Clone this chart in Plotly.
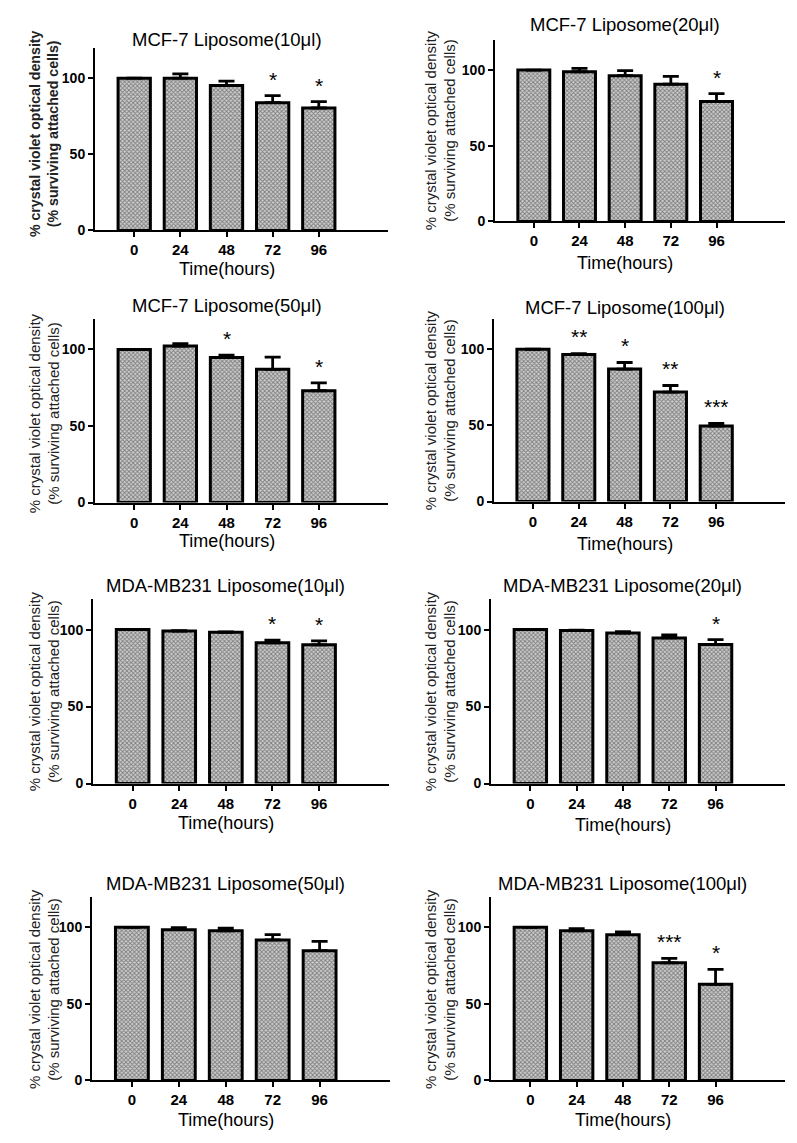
import plotly.graph_objects as go

# ---- data ----
hours = ["0", "24", "48", "72", "96"]

titles = [
    "MCF-7 Liposome(10μl)", "MCF-7 Liposome(20μl)",
    "MCF-7 Liposome(50μl)", "MCF-7 Liposome(100μl)",
    "MDA-MB231 Liposome(10μl)", "MDA-MB231 Liposome(20μl)",
    "MDA-MB231 Liposome(50μl)", "MDA-MB231 Liposome(100μl)",
]

mcf7_10_mean = [100, 100, 95.2, 83.9, 80.4]
mcf7_10_err = [0, 2.8, 2.8, 4.6, 4.2]
mcf7_10_sig = ["", "", "", "*", "*"]

mcf7_20_mean = [100, 98.9, 96.3, 90.7, 79.3]
mcf7_20_err = [0, 2.2, 3.3, 5.2, 5.2]
mcf7_20_sig = ["", "", "", "", "*"]

mcf7_50_mean = [100, 102.2, 94.8, 87.0, 73.0]
mcf7_50_err = [0, 1.5, 1.5, 8.0, 5.2]
mcf7_50_sig = ["", "", "*", "", "*"]

mcf7_100_mean = [100, 96.5, 87.0, 71.9, 49.6]
mcf7_100_err = [0, 0.7, 4.3, 4.3, 1.7]
mcf7_100_sig = ["", "**", "*", "**", "***"]

mda_10_mean = [100, 99.1, 98.3, 91.4, 90.1]
mda_10_err = [0, 0.3, 0.3, 1.7, 2.6]
mda_10_sig = ["", "", "", "*", "*"]

mda_20_mean = [100, 99.4, 97.8, 94.6, 90.3]
mda_20_err = [0, 0.3, 0.9, 1.9, 3.2]
mda_20_sig = ["", "", "", "", "*"]

mda_50_mean = [100, 98.5, 97.8, 91.8, 84.8]
mda_50_err = [0, 1.3, 1.7, 3.4, 6.1]
mda_50_sig = ["", "", "", "", ""]

mda_100_mean = [100, 97.8, 95.2, 76.8, 62.8]
mda_100_err = [0, 1.3, 1.8, 2.9, 9.7]
mda_100_sig = ["", "", "", "***", "*"]

y_ticks = [0, 50, 100]
x_title = "Time(hours)"
y_title = "% crystal violet optical density<br>(% surviving attached cells)"

panels = [
    (mcf7_10_mean, mcf7_10_err, mcf7_10_sig),
    (mcf7_20_mean, mcf7_20_err, mcf7_20_sig),
    (mcf7_50_mean, mcf7_50_err, mcf7_50_sig),
    (mcf7_100_mean, mcf7_100_err, mcf7_100_sig),
    (mda_10_mean, mda_10_err, mda_10_sig),
    (mda_20_mean, mda_20_err, mda_20_sig),
    (mda_50_mean, mda_50_err, mda_50_sig),
    (mda_100_mean, mda_100_err, mda_100_sig),
]

# ---- layout (pixel boxes: x0, x1, ytop, ybottom; title y; xtitle y; ytitle x; ytitle y) ----
W, H = 797, 1143
boxes = [
    (87, 380, 40, 224, 32, 263, 36, 127),
    (487, 777, 32, 215, 17, 257, 432, 123),
    (87, 380, 313, 498, 300, 537, 36, 408),
    (486, 777, 313, 497, 302, 540, 432, 405),
    (85, 381, 595, 781, 582, 821, 36, 688),
    (483, 777, 595, 781, 582, 823, 432, 688),
    (84, 382, 895, 1080, 882, 1120, 36, 988),
    (483, 777, 895, 1080, 882, 1120, 432, 988),
]

FONT = "Liberation Sans, Arial, sans-serif"
fig = go.Figure()
annotations = []
layout = {}

for i, ((mean, err, sig), box, title) in enumerate(zip(panels, boxes, titles)):
    x0, x1, yt, yb, ty, xty, ytx, yty = box
    n = i + 1
    xa = "x" if n == 1 else f"x{n}"
    ya = "y" if n == 1 else f"y{n}"
    xkey = "xaxis" if n == 1 else f"xaxis{n}"
    ykey = "yaxis" if n == 1 else f"yaxis{n}"
    fig.add_trace(go.Bar(
        x=list(range(len(hours))), y=mean,
        xaxis=xa, yaxis=ya, width=0.7,
        marker=dict(
            color="#808080",
            line=dict(color="black", width=3),
            pattern=dict(shape="x", size=3, solidity=0.5,
                         fgcolor="#2a2a2a", bgcolor="#cfcfcf"),
        ),
        error_y=dict(type="data", symmetric=False, array=err,
                     arrayminus=[0] * len(err), color="black",
                     thickness=2.8, width=8),
        showlegend=False,
    ))
    layout[xkey] = dict(
        domain=[x0 / W, x1 / W], anchor=ya,
        range=[-0.85, 5.5], tickmode="array",
        tickvals=list(range(len(hours))), ticktext=hours,
        showline=True, linecolor="black", linewidth=2,
        ticks="outside", ticklen=5, tickwidth=2, tickcolor="black",
        showgrid=False, zeroline=False,
        tickfont=dict(family=FONT, size=15, color="black", weight="bold"),
    )
    layout[ykey] = dict(
        domain=[1 - yb / H, 1 - yt / H], anchor=xa,
        range=[0, 120], tickmode="array", tickvals=y_ticks,
        showline=True, linecolor="black", linewidth=2,
        ticks="outside", ticklen=5, tickwidth=2, tickcolor="black",
        showgrid=False, zeroline=False,
        tickfont=dict(family=FONT, size=14, color="black", weight="bold"),
    )
    annotations.append(dict(
        text=title, xref=xa, x=2, yref="paper", y=1 - ty / H,
        xanchor="center", yanchor="middle", showarrow=False,
        font=dict(family=FONT, size=18.5, color="black")))
    annotations.append(dict(
        text=x_title, xref=xa, x=2, yref="paper", y=1 - xty / H,
        xanchor="center", yanchor="middle", showarrow=False,
        font=dict(family=FONT, size=18, color="black")))
    yt_text = y_title if n != 1 else "<b>% crystal violet optical density</b><br><b>(% surviving attached cells)</b>"
    annotations.append(dict(
        text=yt_text, xref="paper", x=ytx / W, yref="paper",
        y=1 - yty / H, xanchor="center", yanchor="middle",
        textangle=-90, showarrow=False,
        font=dict(family=FONT, size=15 if n != 1 else 14.2, color="#222222")))
    for j, s in enumerate(sig):
        if s:
            annotations.append(dict(
                text=s, xref=xa, yref=ya, x=j, y=mean[j] + err[j] + 2,
                xanchor="center", yanchor="bottom", showarrow=False,
                font=dict(family=FONT, size=21, color="black")))

fig.update_layout(
    width=W, height=H, margin=dict(l=0, r=0, t=0, b=0),
    plot_bgcolor="white", paper_bgcolor="white",
    annotations=annotations, bargap=0.3, **layout,
)
fig.write_html("out.html")
